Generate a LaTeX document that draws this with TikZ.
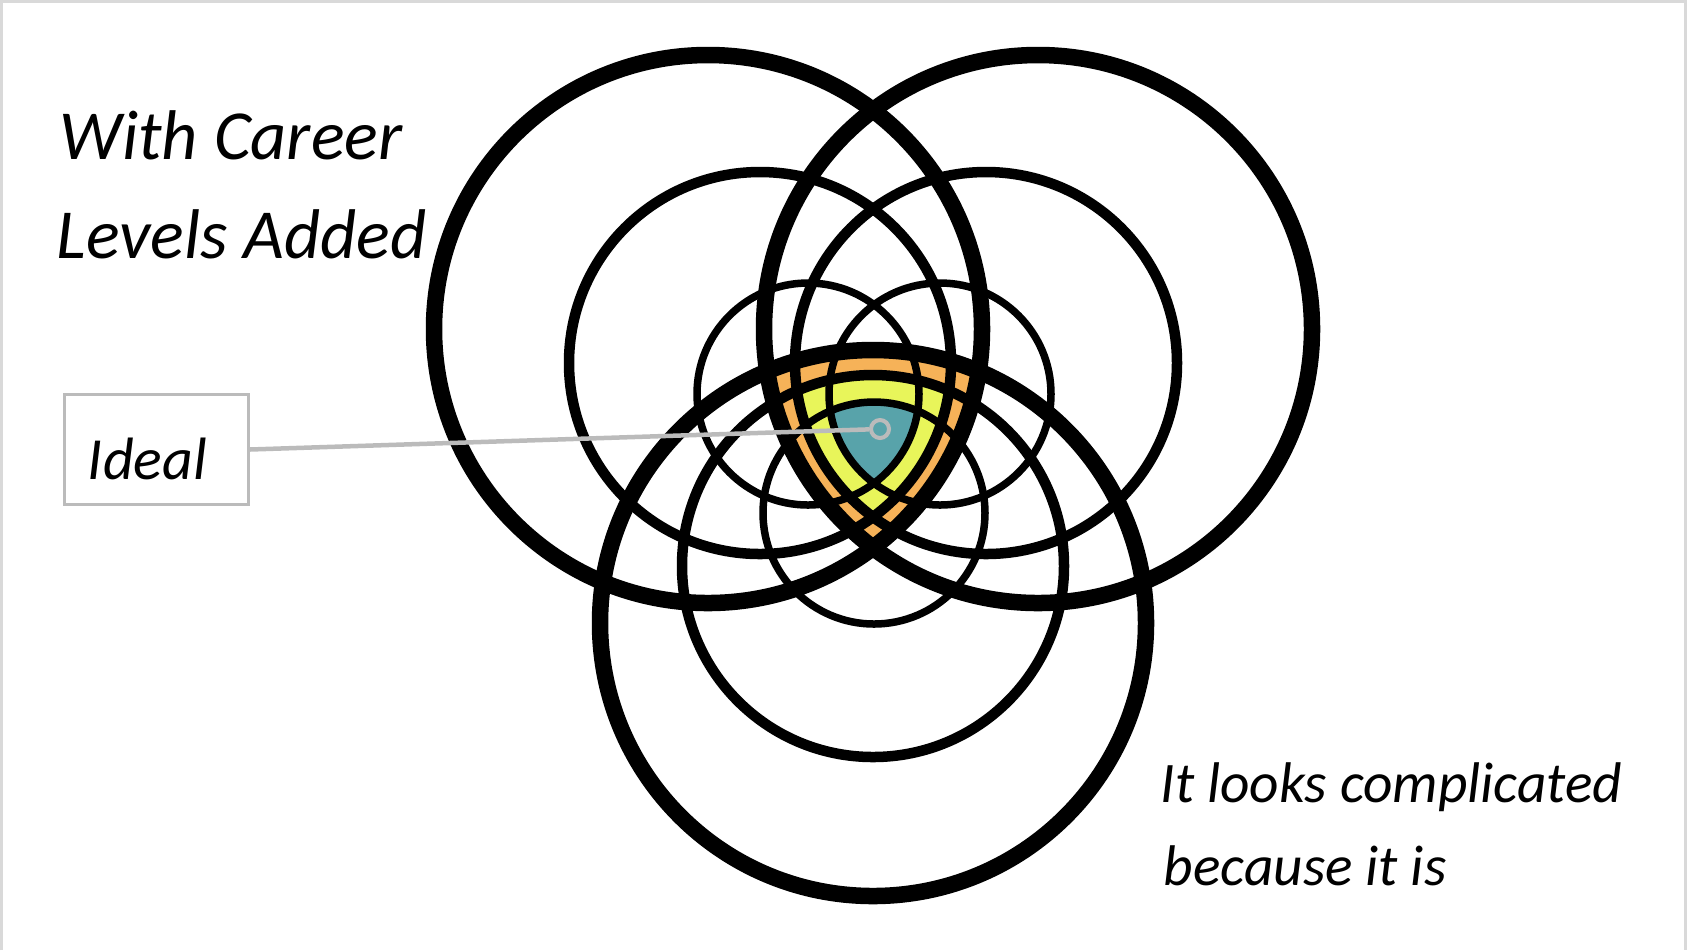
\documentclass[tikz,border=0pt]{standalone}
\usepackage{fontspec}
\setmainfont{Carlito}
\usetikzlibrary{positioning}

\definecolor{bandorange}{RGB}{246,178,88}
\definecolor{bandyellow}{RGB}{232,245,90}
\definecolor{bandteal}{RGB}{88,163,170}
\definecolor{calloutgray}{RGB}{187,187,187}

\begin{document}
\begin{tikzpicture}[x=0.01cm, y=-0.01cm,
  bigring/.style={draw=black, line width=0.165cm},
  midring/.style={draw=black, line width=0.105cm},
  smallring/.style={draw=black, line width=0.075cm},
  hand/.style={font=\fontsize{#1}{#1}\selectfont\itshape, inner sep=0pt}]
% three levels of the same three-way overlap, shrinking toward the middle
\useasboundingbox (0,0) rectangle (1688,950);
\draw[black!15, line width=0.03cm] (1.5,950) -- (1.5,1.5) -- (1685.5,1.5) -- (1685.5,950);

\coordinate (bigTL) at (708,329);
\coordinate (bigTR) at (1038,329);
\coordinate (bigB) at (873,623);
\coordinate (midTL) at (760,363);
\coordinate (midTR) at (986,363);
\coordinate (midB) at (873,566);
\coordinate (smallTL) at (808,394);
\coordinate (smallTR) at (940,394);
\coordinate (smallB) at (874,513);

\begin{scope}
\clip (bigTL) circle (274);
\clip (bigTR) circle (274);
\fill[bandorange] (bigB) circle (273);
\end{scope}
\begin{scope}
\clip (midTL) circle (191);
\clip (midTR) circle (191);
\fill[bandyellow] (midB) circle (191);
\end{scope}
\begin{scope}
\clip (smallTL) circle (111);
\clip (smallTR) circle (111);
\fill[bandteal] (smallB) circle (111);
\end{scope}

\draw[bigring] (bigTL) circle (274);
\draw[bigring] (bigTR) circle (274);
\draw[bigring] (bigB) circle (273);
\foreach \c in {midTL,midTR,midB} \draw[midring] (\c) circle (191);
\foreach \c in {smallTL,smallTR,smallB} \draw[smallring] (\c) circle (111);

\node[hand=20, anchor=base west] (title1) at (59,159) {With Career};
\node[hand=20, anchor=base west] (title2) at (56,258) {Levels Added};

\node[hand=17, draw=calloutgray, line width=0.03cm, minimum width=1.83cm, minimum height=1.09cm,
  text height=0.59cm, text depth=0cm, text width=1.37cm] (ideal) at (156.5,449.5) {Ideal};
\node[circle, draw=calloutgray, line width=0.04cm, minimum size=0.18cm, inner sep=0pt] (idealdot) at (880,429) {};
\draw[calloutgray, line width=0.045cm] (ideal.east) -- (idealdot);

\node[hand=16.3, anchor=base west] (note1) at (1160,802) {It looks complicated};
\node[hand=16.3, anchor=base west] (note2) at (1163,885) {because it is};
\end{tikzpicture}
\end{document}
